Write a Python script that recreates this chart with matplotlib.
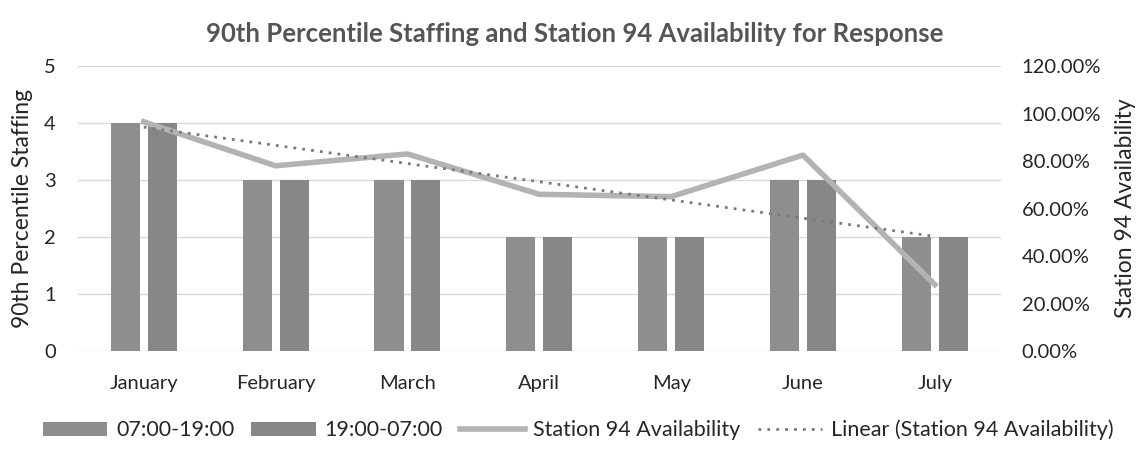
import numpy as np
import matplotlib
matplotlib.use("Agg")
import matplotlib.pyplot as plt
from matplotlib.ticker import FuncFormatter

months = ["January", "February", "March", "April", "May", "June", "July"]
day_shift = [4, 3, 3, 2, 2, 3, 2]      # 07:00-19:00
night_shift = [4, 3, 3, 2, 2, 3, 2]    # 19:00-07:00
availability = [0.965, 0.78, 0.83, 0.66, 0.65, 0.825, 0.28]  # Station 94

plt.rcParams['font.family'] = ['Lato', 'DejaVu Sans']
txt = '#262626'

fig = plt.figure(figsize=(11.45, 4.49), dpi=100)
ax1 = fig.add_axes([0.068, 0.218, 0.806, 0.635])

x = np.arange(len(months))
w = 0.22
ax1.bar(x - 0.14, day_shift, w, color='#8e8e8e', label='07:00-19:00', zorder=2)
ax1.bar(x + 0.14, night_shift, w, color='#878787', label='19:00-07:00', zorder=2)

ax1.set_ylim(0, 5)
ax1.set_xlim(-0.5, len(months) - 0.5)
ax1.set_yticks(range(6))
ax1.set_xticks(x)
ax1.set_xticklabels(months)
ax1.grid(axis='y', color='#d9d9d9', linewidth=1, zorder=0)
ax1.set_ylabel('90th Percentile Staffing', fontsize=16.5, color=txt, labelpad=8)
ax1.tick_params(axis='y', length=0, labelsize=14.5, colors=txt, pad=16)
ax1.tick_params(axis='x', length=0, labelsize=14.5, colors=txt, pad=17)
for s in ax1.spines.values():
    s.set_visible(False)

ax2 = ax1.twinx()
ax2.plot(x, availability, color='#b3b3b3', linewidth=4, label='Station 94 Availability', zorder=3)
# linear trend line as Excel draws it
k, b = np.polyfit(x, availability, 1)
ax2.plot(x, k * x + b, color='#7a7a7a', linestyle=(0, (1, 2.2)), linewidth=2,
         label='Linear (Station 94 Availability)', zorder=4)
ax2.set_ylim(0, 1.2)
ax2.set_yticks(np.arange(0, 1.21, 0.2))
ax2.yaxis.set_major_formatter(FuncFormatter(lambda v, p: f"{v*100:.2f}%"))
ax2.set_ylabel('Station 94 Availability', fontsize=16.5, color=txt, labelpad=10)
ax2.tick_params(axis='y', length=0, labelsize=14.5, colors=txt, pad=15)
for s in ax2.spines.values():
    s.set_visible(False)

fig.suptitle('90th Percentile Staffing and Station 94 Availability for Response',
             x=0.502, y=0.95, fontsize=18.5, fontweight='bold', color='#555555')

h1, l1 = ax1.get_legend_handles_labels()
h2, l2 = ax2.get_legend_handles_labels()
fig.legend(h1 + h2, l1 + l2, loc='center', bbox_to_anchor=(0.505, 0.042), ncol=4,
           frameon=False, fontsize=15.5, handlelength=3.0, handleheight=0.6,
           columnspacing=0.8, handletextpad=0.4, labelcolor=txt)

plt.savefig('out.png', dpi=100)
